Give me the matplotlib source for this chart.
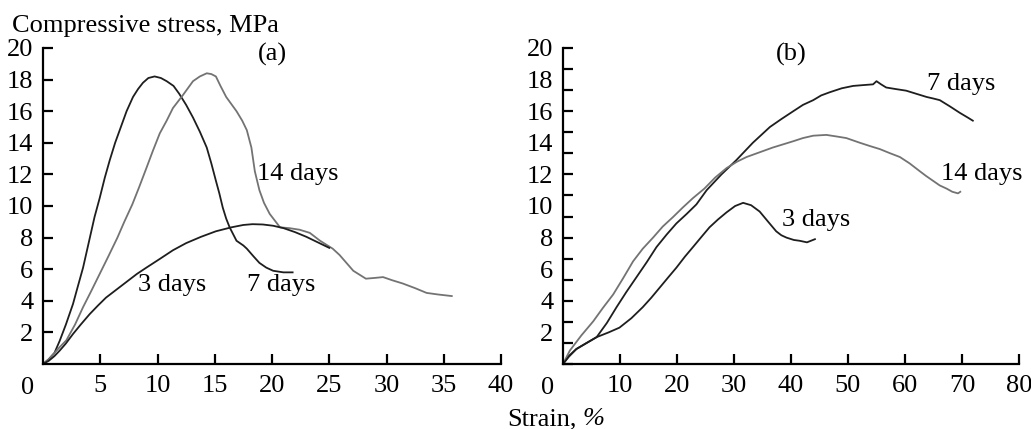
import numpy as np
import matplotlib
matplotlib.use("Agg")
import matplotlib.pyplot as plt

plt.rcParams["font.family"] = ["Liberation Serif", "DejaVu Serif"]
plt.rcParams["font.size"] = 19

# Panel (a): strain %, stress MPa
a_x_7d = [0, 0.5, 1.0, 1.46, 2.0, 2.62, 3.0, 3.5, 4.0, 4.5, 4.95, 5.4, 5.83, 6.3, 6.7, 7.3, 7.86,
          8.3, 8.73, 9.2, 9.75, 10.3, 10.8, 11.4, 11.9, 12.5, 13.1, 13.7, 14.3, 14.7, 15.1,
          15.4, 15.7, 16.0, 16.3, 16.9, 17.5, 17.8, 18.4, 18.9, 19.5, 20.1, 21.0, 21.8]
a_y_7d = [0, 0.3, 0.7, 1.47, 2.5, 3.8, 4.8, 6.1, 7.7, 9.3, 10.5, 11.8, 12.9, 14.0, 14.8, 16.0,
          16.9, 17.4, 17.8, 18.1, 18.2, 18.1, 17.9, 17.6, 17.1, 16.4, 15.6, 14.7, 13.7, 12.7,
          11.6, 10.8, 9.9, 9.2, 8.65, 7.8, 7.5, 7.3, 6.8, 6.4, 6.1, 5.9, 5.8, 5.8]
a_x_14d = [0, 0.5, 1.0, 1.5, 2.04, 2.8, 3.5, 4.2, 4.95, 5.7, 6.5, 7.1, 7.8, 8.4, 9.03, 9.6,
           10.2, 10.8, 11.35, 12.2, 13.1, 13.7, 14.3, 14.7, 15.1, 15.5, 16.0, 16.5, 16.9, 17.4,
           17.8, 18.2, 18.5, 18.9, 19.3, 19.8, 20.7, 21.5, 22.4, 23.3, 24.2, 25.3, 25.9, 26.5,
           27.1, 28.2, 29.0, 29.7, 30.5, 31.4, 32.5, 33.5, 34.5, 35.7]
a_y_14d = [0, 0.3, 0.7, 1.1, 1.5, 2.5, 3.6, 4.6, 5.7, 6.8, 8.0, 9.0, 10.1, 11.2, 12.4, 13.5,
           14.6, 15.4, 16.2, 17.0, 17.9, 18.2, 18.4, 18.35, 18.2, 17.6, 16.9, 16.4, 16.0, 15.4,
           14.8, 13.7, 12.2, 11.0, 10.2, 9.5, 8.65, 8.6, 8.5, 8.3, 7.8, 7.3, 6.9, 6.4,
           5.9, 5.4, 5.45, 5.5, 5.3, 5.1, 4.8, 4.5, 4.4, 4.3]
a_x_3d = [0, 0.5, 1.0, 1.46, 2.0, 2.62, 3.3, 4.08, 4.8, 5.5, 6.4, 7.3, 8.2, 9.03, 10.2, 11.35,
          12.5, 13.8, 15.1, 16.45, 17.5, 18.3, 19.2, 20.1, 21.0, 22.0, 23.0, 24.0, 25.0]
a_y_3d = [0, 0.2, 0.5, 0.85, 1.3, 1.9, 2.5, 3.16, 3.7, 4.2, 4.7, 5.2, 5.7, 6.1, 6.65, 7.2,
          7.65, 8.05, 8.4, 8.65, 8.8, 8.85, 8.83, 8.75, 8.6, 8.35, 8.05, 7.7, 7.35]

# Panel (b)
b_x_7d = [0, 1, 2.35, 4, 5.9, 7.7, 9.4, 11.1, 12.9, 14.7, 16.4, 18.2, 19.9, 21.7, 23.4, 25.2,
          27.8, 30.4, 33.3, 36.3, 38.3, 40.4, 42.1, 43.9, 45.3, 46.8, 48.9, 50.9, 52.6, 54.4,
          55.0, 55.8, 56.7, 58.4, 60.2, 62.0, 63.8, 65.0, 66.1, 67.9, 69.6, 71.0, 71.9]
b_y_7d = [0, 0.5, 0.95, 1.3, 1.7, 2.6, 3.6, 4.55, 5.5, 6.45, 7.4, 8.2, 8.9, 9.5, 10.1, 11.0,
          12.0, 12.9, 14.0, 15.0, 15.5, 16.0, 16.4, 16.7, 17.0, 17.2, 17.45, 17.6, 17.65, 17.7,
          17.9, 17.7, 17.5, 17.4, 17.3, 17.1, 16.9, 16.8, 16.7, 16.3, 15.9, 15.6, 15.4]
b_x_14d = [0, 1.2, 3.2, 5.3, 7.0, 8.8, 10.5, 12.3, 14.0, 15.8, 17.5, 19.3, 21.0, 22.8, 24.8,
           26.7, 28.7, 30.5, 32.2, 34.5, 36.8, 38.6, 40.4, 42.1, 43.9, 46.2, 48.0, 49.7, 52.1,
           53.8, 55.6, 57.3, 59.1, 60.8, 62.6, 63.7, 64.9, 66.1, 67.3, 68.3, 69.3, 69.7]
b_y_14d = [0, 0.85, 1.8, 2.7, 3.55, 4.4, 5.4, 6.5, 7.3, 8.0, 8.7, 9.3, 9.9, 10.5, 11.1,
           11.8, 12.4, 12.8, 13.1, 13.4, 13.7, 13.9, 14.1, 14.3, 14.45, 14.5, 14.4, 14.3, 14.0,
           13.8, 13.6, 13.35, 13.1, 12.7, 12.2, 11.9, 11.6, 11.3, 11.1, 10.9, 10.8, 10.9]
b_x_3d = [0, 1, 2.35, 4, 5.9, 8, 9.9, 12, 14, 15.5, 17, 18.5, 19.9, 21.4, 22.8, 24.3, 25.7,
          27.2, 28.7, 30.2, 31.6, 33, 34.5, 36, 37.4, 38.3, 39.2, 40.5, 41.5, 42.8, 44.2]
b_y_3d = [0, 0.45, 0.95, 1.3, 1.7, 2.0, 2.3, 2.9, 3.6, 4.2, 4.85, 5.5, 6.1, 6.8, 7.4, 8.05,
          8.65, 9.15, 9.6, 10.0, 10.2, 10.05, 9.65, 9.0, 8.4, 8.15, 8.0, 7.85, 7.8, 7.7, 7.9]

y_labels = [2, 4, 6, 8, 10, 12, 14, 16, 18, 20]

dark = "#1e1e1e"
gray = "#737373"

fig = plt.figure(figsize=(10.31, 4.29), dpi=100)
ax_a = fig.add_axes([43 / 1031, 1 - 364 / 429, 458 / 1031, 316 / 429])
ax_b = fig.add_axes([563 / 1031, 1 - 364 / 429, 456 / 1031, 316 / 429])


def style_axis(ax, xmax, xstep):
    for side in ["top", "right"]:
        ax.spines[side].set_visible(False)
    for side in ["left", "bottom"]:
        ax.spines[side].set_linewidth(1.6)
    ax.set_xlim(0, xmax)
    ax.set_ylim(0, 20)
    ax.set_xticks(np.arange(xstep, xmax + 1, xstep))
    ax.tick_params(direction="in", width=1.6, length=7, pad=8)
    ax.tick_params(axis="y", pad=7)
    ax.annotate("0", (0, 0), xycoords="data", xytext=(-11, -9),
                textcoords="offset points", ha="center", va="top")


style_axis(ax_a, 40, 5)
ax_a.set_yticks(y_labels)

style_axis(ax_b, 80, 10)
# panel (b) has tick marks that don't line up with its labels
ax_b.yaxis.remove_overlapping_locs = False
ax_b.set_yticks(np.linspace(0, 20, 16))
ax_b.set_yticklabels([])
ax_b.set_yticks(y_labels, minor=True)
ax_b.set_yticklabels([str(v) for v in y_labels], minor=True)
ax_b.tick_params(axis="y", which="minor", length=0, pad=7)

lw = 1.3
ax_a.plot(a_x_7d, a_y_7d, color=dark, lw=lw)
ax_a.plot(a_x_14d, a_y_14d, color=gray, lw=lw)
ax_a.plot(a_x_3d, a_y_3d, color=dark, lw=lw)
ax_a.text(18.7, 12.0, "14 days", va="center")
ax_a.text(8.3, 5.0, "3 days", va="center")
ax_a.text(17.8, 5.0, "7 days", va="center")
ax_a.text(20, 19.6, "(a)", ha="center", va="center")

ax_b.plot(b_x_7d, b_y_7d, color=dark, lw=lw)
ax_b.plot(b_x_14d, b_y_14d, color=gray, lw=lw)
ax_b.plot(b_x_3d, b_y_3d, color=dark, lw=lw)
ax_b.text(63.9, 17.7, "7 days", va="center")
ax_b.text(66.3, 12.0, "14 days", va="center")
ax_b.text(38.4, 9.1, "3 days", va="center")
ax_b.text(40, 19.6, "(b)", ha="center", va="center")

fig.text(12 / 1031, 1 - 32 / 429, "Compressive stress, MPa", ha="left", va="baseline")
fig.text(507 / 1031, 1 - 425 / 429, "Strain,", ha="left", va="baseline")
fig.text(583 / 1031, 1 - 425 / 429, "%", ha="left", va="baseline", style="italic")

fig.savefig("out.png", dpi=100)
